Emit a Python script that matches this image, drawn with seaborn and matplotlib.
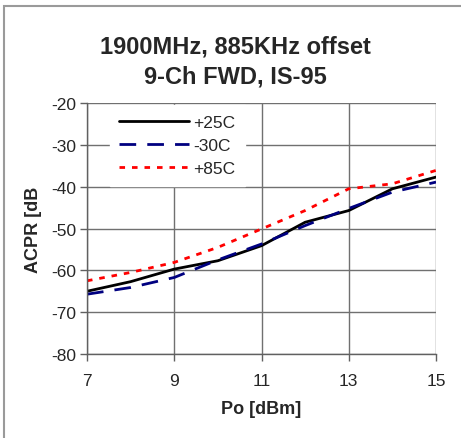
import matplotlib
matplotlib.use("Agg")
import matplotlib.pyplot as plt
import seaborn as sns
import pandas as pd
from matplotlib.patches import Rectangle

# Po [dBm] sample points
po = [7, 8, 9, 10, 11, 12, 13, 14, 15]
acpr_25c = [-65.0, -62.7, -59.7, -57.7, -54.1, -48.5, -45.7, -40.5, -37.7]
acpr_m30c = [-65.7, -64.1, -61.7, -57.5, -53.7, -49.3, -45.2, -41.3, -38.9]
acpr_85c = [-62.5, -60.5, -58.1, -54.5, -50.1, -45.7, -40.5, -39.3, -36.1]

labels = ["+25C", "-30C", "+85C"]
x_ticks = [7, 9, 11, 13, 15]
y_ticks = [-80, -70, -60, -50, -40, -30, -20]

sns.set_theme(style="white")
plt.rcParams['font.family'] = ['Liberation Sans', 'DejaVu Sans']
plt.rcParams['axes.unicode_minus'] = False

fig = plt.figure(figsize=(4.61, 4.39), dpi=100)
ax = fig.add_axes([0.1887, 0.1913, 0.7571, 0.5717])

# outer frame of the original picture (only left/top visible)
fig.patches.append(Rectangle((4 / 461, -0.05), 1.2, 1.05 - 7 / 439,
                             transform=fig.transFigure, fill=False,
                             edgecolor='#9a9a9a', linewidth=1.5))

styles = [
    (acpr_25c, 'black', None),
    (acpr_m30c, '#000080', (6, 4)),
    (acpr_85c, '#ff0000', (2, 2.5)),
]
for (vals, col, dash), lab in zip(styles, labels):
    df = pd.DataFrame({'po': po, 'acpr': vals})
    sns.lineplot(data=df, x='po', y='acpr', ax=ax, color=col, label=lab,
                 linewidth=2)
    if dash is not None:
        ax.get_lines()[-1].set_dashes(dash)

ax.set_xlim(7, 15)
ax.set_ylim(-80, -20)
ax.set_xticks(x_ticks)
ax.set_yticks(y_ticks)
ax.grid(True, color='#707070', linewidth=1)
for s in ['top', 'right']:
    ax.spines[s].set_visible(False)
for s in ['left', 'bottom']:
    ax.spines[s].set_color('#606060')
    ax.spines[s].set_linewidth(1)
ax.tick_params(axis='both', direction='out', length=5, width=1,
               color='#606060', labelsize=12.5, pad=3,
               bottom=True, left=True)
ax.tick_params(axis='x', pad=9)

ax.set_xlabel('Po [dBm]', fontsize=13, fontweight='bold', labelpad=8)
ax.set_ylabel('ACPR [dB', fontsize=13, fontweight='bold', labelpad=6)

leg = ax.legend(loc='upper left', bbox_to_anchor=(0.04, 1.025), frameon=True,
                fontsize=12.5, handlelength=4.0, handletextpad=0.25,
                labelspacing=0.45, borderpad=0.55, fancybox=False)
leg.get_frame().set_facecolor('white')
leg.get_frame().set_edgecolor('white')
leg.get_frame().set_alpha(1)

fig.text(0.51, 0.893, '1900MHz, 885KHz offset', ha='center', va='center',
         fontsize=17, fontweight='bold')
fig.text(0.51, 0.825, '9-Ch FWD, IS-95', ha='center', va='center',
         fontsize=17, fontweight='bold')

fig.savefig('out.png', dpi=100)
